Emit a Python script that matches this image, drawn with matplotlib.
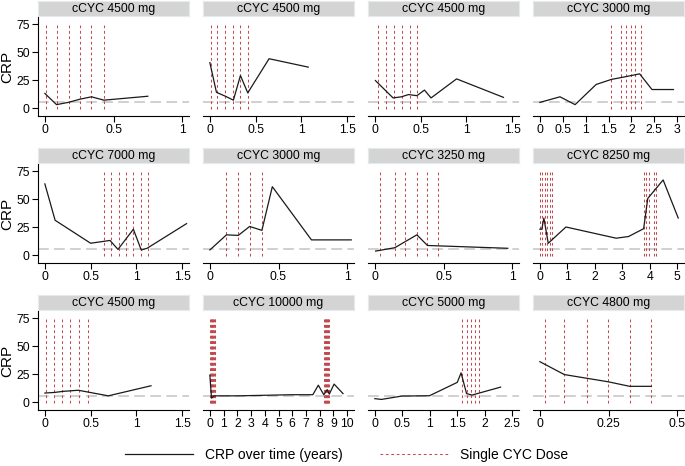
import matplotlib
matplotlib.use('Agg')
import matplotlib.pyplot as plt
from matplotlib.lines import Line2D
from matplotlib.ticker import FuncFormatter

plt.rcParams['font.family'] = ['Liberation Sans', 'DejaVu Sans']

# ---------------- data ----------------
titles = ["cCYC 4500 mg", "cCYC 4500 mg", "cCYC 4500 mg", "cCYC 3000 mg",
          "cCYC 7000 mg", "cCYC 3000 mg", "cCYC 3250 mg", "cCYC 8250 mg",
          "cCYC 4500 mg", "cCYC 10000 mg", "cCYC 5000 mg", "cCYC 4800 mg"]

t1 = [0.0, 0.085, 0.17, 0.26, 0.34, 0.43, 0.75]
crp1 = [13, 3, 5, 8, 10, 7, 10.5]
dose1 = [0.007, 0.085, 0.176, 0.259, 0.338, 0.428]

t2 = [0.0, 0.072, 0.17, 0.257, 0.334, 0.414, 0.647, 1.075]
crp2 = [40.5, 14, 10.5, 7, 29, 13.5, 44, 36.5]
dose2 = [0.011, 0.083, 0.167, 0.257, 0.334, 0.414]

t3 = [0.006, 0.199, 0.29, 0.368, 0.459, 0.542, 0.614, 0.893, 1.405]
crp3 = [24.5, 9, 10, 12, 11, 16, 9, 26, 9.5]
dose3 = [0.033, 0.123, 0.206, 0.297, 0.379, 0.459]

t4 = [0.0, 0.44, 0.77, 1.23, 1.56, 1.88, 2.18, 2.45, 2.92]
crp4 = [5, 10, 3, 21, 25.5, 28, 30.5, 16.5, 16.5]
dose4 = [1.56, 1.77, 1.88, 1.99, 2.09, 2.20]

t5 = [0.0, 0.112, 0.5, 0.712, 0.799, 0.967, 1.053, 1.117, 1.548]
crp5 = [63.5, 31, 10.5, 13, 5, 23, 4.5, 6, 28]
dose5 = [0.641, 0.723, 0.806, 0.892, 0.967, 1.049, 1.125]

t6 = [0.0, 0.121, 0.207, 0.29, 0.379, 0.455, 0.74, 1.03]
crp6 = [4.5, 18, 17.5, 25.5, 22, 61, 13.5, 13.5]
dose6 = [0.121, 0.207, 0.290, 0.379]

t7 = [0.005, 0.145, 0.306, 0.383, 0.968]
crp7 = [3.5, 6.5, 18, 8.5, 6]
dose7 = [0.041, 0.149, 0.217, 0.306, 0.383, 0.458]

t8 = [0.0, 0.07, 0.146, 0.305, 0.95, 2.78, 3.23, 3.78, 3.93, 4.49, 5.04]
crp8 = [23, 23, 33, 10.5, 25, 15, 16.5, 23.5, 50.5, 67, 33]
dose8 = [0.0, 0.09, 0.18, 0.27, 0.36, 0.45, 3.78, 3.87, 3.96, 4.14, 4.23]

t9 = [0.0, 0.1, 0.2, 0.365, 0.693, 1.16]
crp9 = [8, 8.5, 9.5, 10.5, 5.5, 14.5]
dose9 = [0.011, 0.102, 0.186, 0.274, 0.368, 0.467]

t10 = [0.0, 0.12, 0.3, 2.0, 4.0, 6.0, 7.5, 7.9, 8.3, 8.55, 8.7, 9.05, 9.7]
crp10 = [24, 3.5, 5.5, 5.5, 6, 6.5, 6.5, 15, 6.5, 11, 7, 16, 7.5]
dose10 = [0.02, 0.06, 0.10, 0.14, 0.18, 0.22, 0.26, 0.30, 0.34, 0.38,
          8.32, 8.36, 8.40, 8.44, 8.48, 8.52, 8.56, 8.60, 8.64, 8.68]

t11 = [0.0, 0.12, 0.49, 0.995, 1.5, 1.57, 1.67, 1.77, 2.29]
crp11 = [3, 2.3, 5.3, 5.6, 17.5, 26, 7.5, 6.2, 13.3]
dose11 = [1.59, 1.67, 1.75, 1.82, 1.89]

t12 = [0.0, 0.089, 0.25, 0.327, 0.405]
crp12 = [36, 24.5, 18, 14, 14]
dose12 = [0.017, 0.089, 0.170, 0.248, 0.327, 0.405]

xticks_list = [
    [0, 0.5, 1], [0, 0.5, 1, 1.5], [0, 0.5, 1, 1.5], [0, 0.5, 1, 1.5, 2, 2.5, 3],
    [0, 0.5, 1, 1.5], [0, 0.5, 1], [0, 0.5, 1], [0, 1, 2, 3, 4, 5],
    [0, 0.5, 1, 1.5], list(range(0, 11)), [0, 0.5, 1, 1.5, 2, 2.5], [0, 0.25, 0.5],
]
yticks = [0, 25, 50, 75]
ref_level = 5
legend_labels = ["CRP over time (years)", "Single CYC Dose"]

times = [t1, t2, t3, t4, t5, t6, t7, t8, t9, t10, t11, t12]
crps = [crp1, crp2, crp3, crp4, crp5, crp6, crp7, crp8, crp9, crp10, crp11, crp12]
doses = [dose1, dose2, dose3, dose4, dose5, dose6, dose7, dose8, dose9, dose10, dose11, dose12]

# ---------------- drawing ----------------
W, H = 685, 466
fig = plt.figure(figsize=(W / 100, H / 100), dpi=100)

RED = '#c24a4f'
BLACK = '#1a1a1a'
GREY = '#c4c4c4'
DOT = (0, (2.6, 2.6))
fmt = FuncFormatter(lambda v, p: '%g' % v)

for i in range(12):
    r, c = divmod(i, 4)
    left = 38 + 165 * c
    top = 1 + 147 * r
    # strip
    sax = fig.add_axes([left / W, 1 - (top + 15) / H, 151 / W, 15 / H])
    sax.set_facecolor('#d4d4d4')
    sax.set_xticks([]); sax.set_yticks([])
    for s in sax.spines.values():
        s.set_edgecolor('#e4eaee'); s.set_linewidth(0.8)
    sax.text(0.5, 0.45, titles[i], ha='center', va='center', fontsize=8.8,
             transform=sax.transAxes)
    # plot
    ax = fig.add_axes([left / W, 1 - (top + 115) / H, 151 / W, 99 / H])
    xt = xticks_list[i]
    xmax = xt[-1]
    ax.set_xlim(-0.05 * xmax, 1.05 * xmax)
    ax.set_ylim(-7.14, 81.25)
    ax.axhline(ref_level, color=GREY, lw=1.1, ls=(0, (7, 3.5)), zorder=1)
    for d in doses[i]:
        ax.plot([d, d], [-1, 75], color=RED, lw=0.75, ls=DOT, zorder=2)
    ax.plot(times[i], crps[i], color=BLACK, lw=0.9, zorder=3)
    ax.spines['top'].set_visible(False)
    ax.spines['right'].set_visible(False)
    ax.spines['bottom'].set_linewidth(0.8)
    ax.set_xticks(xt)
    ax.xaxis.set_major_formatter(fmt)
    ax.tick_params(axis='x', length=4, width=0.8, labelsize=8.8, pad=2)
    if c == 0:
        ax.set_yticks(yticks)
        ax.spines['left'].set_linewidth(0.8)
        ax.tick_params(axis='y', length=4, width=0.8, labelsize=8.8, pad=2)
        fig.text(7 / W, 1 - (top + 66) / H, 'CRP', rotation=90, ha='center',
                 va='center', fontsize=11)
    else:
        ax.set_yticks([])
        ax.spines['left'].set_visible(False)
    ax.patch.set_alpha(0)

handles = [Line2D([], [], color=BLACK, lw=0.9),
           Line2D([], [], color=RED, lw=0.75, ls=DOT)]
fig.legend(handles, legend_labels, loc='center',
           bbox_to_anchor=(346.5 / W, 1 - 455 / H), ncol=2, frameon=False,
           fontsize=10, handlelength=4.9, handletextpad=0.85, columnspacing=2.7)

fig.savefig('out.png', dpi=100, facecolor='white')
